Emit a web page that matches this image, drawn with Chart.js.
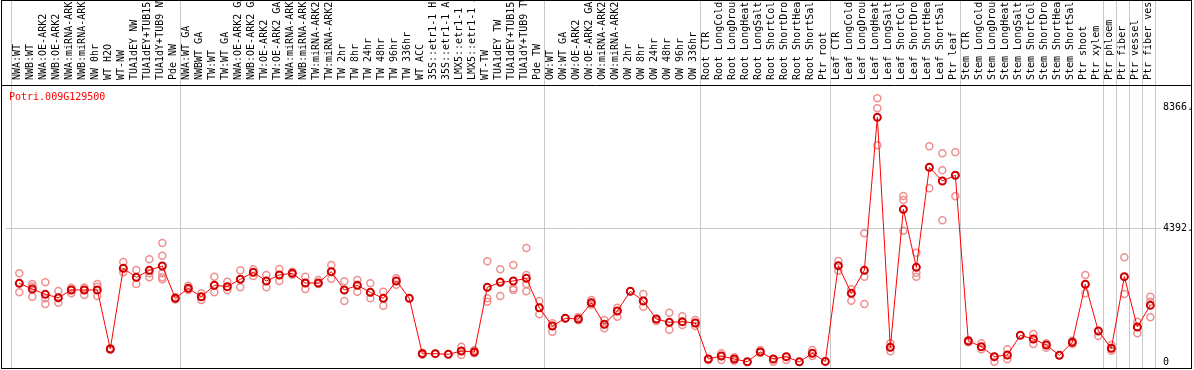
<!DOCTYPE html>
<html lang="en">
<head>
<meta charset="UTF-8">
<title>Potri.009G129500</title>
<script src="https://cdn.jsdelivr.net/npm/chart.js"></script>
<style>
  body { margin: 0; background: #ffffff; }
  .chart-box { width: 1194px; height: 370px; position: relative; }
</style>
</head>
<body>
<div class="chart-box"><canvas id="exprChart"></canvas></div>
<script>
const geneName = 'Potri.009G129500';

const samples = [
  'NWA:WT', 'NWB:WT', 'NWA:OE-ARK2', 'NWB:OE-ARK2', 'NWA:miRNA-ARK2', 'NWB:miRNA-ARK2',
  'NW 0hr', 'WT H2O', 'WT-NW', 'TUA1dEY NW', 'TUA1dEY+TUB15 NW', 'TUA1dY+TUB9 NW', 'Pde NW',
  'NWA:WT GA', 'NWBWT GA', 'TW:WT', 'TW:WT GA', 'NWA:OE-ARK2 GA', 'NWB:OE-ARK2 GA',
  'TW:OE-ARK2', 'TW:OE-ARK2 GA', 'NWA:miRNA-ARK2', 'NWB:miRNA-ARK2', 'TW:miRNA-ARK2', 'TW:miRNA-ARK2',
  'TW 2hr', 'TW 8hr', 'TW 24hr', 'TW 48hr', 'TW 96hr', 'TW 336hr', 'WT ACC',
  '35S::etr1-1 H2O', '35S::etr1-1 ACC', 'LMX5::etr1-1 H2O', 'LMX5::etr1-1 ACC',
  'WT-TW', 'TUA1dEY TW', 'TUA1dEY+TUB15 TW', 'TUA1dY+TUB9 TW', 'Pde TW',
  'OW:WT', 'OW:WT GA', 'OW:OE-ARK2', 'OW:OE-ARK2 GA', 'OW:miRNA-ARK2', 'OW:miRNA-ARK2',
  'OW 2hr', 'OW 8hr', 'OW 24hr', 'OW 48hr', 'OW 96hr', 'OW 336hr',
  'Root CTR', 'Root LongCold', 'Root LongDrought', 'Root LongHeat', 'Root LongSalt',
  'Root ShortCold', 'Root ShortDrought', 'Root ShortHeat', 'Root ShortSalt', 'Ptr root',
  'Leaf CTR', 'Leaf LongCold', 'Leaf LongDrought', 'Leaf LongHeat', 'Leaf LongSalt',
  'Leaf ShortCold', 'Leaf ShortDrought', 'Leaf ShortHeat', 'Leaf ShortSalt', 'Ptr leaf',
  'Stem CTR', 'Stem LongCold', 'Stem LongDrought', 'Stem LongHeat', 'Stem LongSalt',
  'Stem ShortCold', 'Stem ShortDrought', 'Stem ShortHeat', 'Stem ShortSalt', 'Ptr shoot',
  'Ptr xylem', 'Ptr phloem', 'Ptr fiber', 'Ptr vessel', 'Ptr fiber vessel'
];

const means = [
  2580, 2394, 2220, 2110, 2362, 2362, 2362, 426, 3072, 2777, 3007, 3149, 2089,
  2417, 2142, 2515, 2471, 2712, 2941, 2657, 2854, 2909, 2591, 2591, 2963,
  2362, 2515, 2286, 2089, 2657, 2089, 273, 273, 251, 361, 328,
  2449, 2613, 2657, 2745, 1781,
  1181, 1432, 1410, 1945, 1236, 1673, 2318, 2001, 1410, 1301, 1323, 1279,
  98, 197, 98, 10, 328, 98, 175, 5, 284, 20,
  3160, 2252, 3007, 8026, 481, 5008, 3105, 6385, 5937, 6124,
  689, 503, 175, 230, 875, 754, 558, 219, 645, 2548,
  1017, 448, 2799, 1148, 1859
];

const replicates = [
  [2909, 2580, 2286], [2558, 2480, 2142], [2614, 2089, 1902], [2329, 2089, 1945],
  [2438, 2362, 2252], [2440, 2362, 2198], [2558, 2470, 2165], [450, 426, 400],
  [3280, 3072, 2941], [3018, 2777, 2558], [3368, 2909, 2777], [3903, 3488, 2909, 2712, 2780],
  [2130, 2089, 2050],
  [2504, 2417, 2362], [2252, 2142, 2034], [2798, 2515, 2286], [2634, 2471, 2362],
  [3007, 2712, 2449], [3040, 2941, 2821], [2854, 2657, 2449], [3050, 2854, 2657],
  [2960, 2909, 2860], [2798, 2591, 2394], [2690, 2591, 2558], [3182, 2963, 2733],
  [2646, 2362, 2001], [2690, 2515, 2307], [2580, 2286, 2089], [2304, 2089, 1847],
  [2745, 2657, 2530], [2089], [300, 273, 240], [273], [251], [503, 361, 229], [394, 328, 284],
  [3302, 2089, 1979], [3040, 2634, 2165], [3182, 2417, 2362], [3739, 2854, 2558, 2318], [2001, 1781, 1563],
  [1268, 1181, 994], [1432], [1480, 1410, 1370], [2034, 1945, 1880], [1378, 1236, 1104],
  [1782, 1673, 1487], [2318], [2230, 2001, 1815], [1410, 1345], [1618, 1301, 1060],
  [1498, 1323, 1214], [1378, 1279, 1181],
  [98, 66], [284, 197, 65], [153, 98, 44], [10], [394, 328, 300], [98, 10], [175, 66], [5],
  [394, 284, 200], [20],
  [3313, 3160, 2996], [2383, 2252, 2012], [4221, 2798, 1902], [8649, 8321, 7108], [612, 481, 350],
  [5445, 5314, 4307], [3586, 2930, 2799], [7075, 6385, 5697], [6845, 6288, 4648], [6878, 6124, 5435],
  [720, 689, 650], [612, 503, 420], [175, 10], [416, 230, 87], [875], [918, 754, 590],
  [612, 558, 470], [219], [700, 645, 590], [2854, 2548, 2252],
  [1017, 853], [558, 448, 372], [3433, 2799, 2230], [1323, 1148, 940], [2142, 1979, 1465]
];

// first sample of each group, the last entry closes the final group
const groupStarts = [0, 13, 41, 53, 63, 73, 84, 85, 86, 87, 88];

const yTickValues = [0, 4392, 8366];
const yTickLabels = ['0', '4392.', '8366.'];

const monoFont = { family: 'DejaVu Sans Mono', size: 10 };

const meanPoints = means.map((v, i) => ({ x: i, y: v }));
const repPoints = [];
replicates.forEach((reps, i) => reps.forEach(v => repPoints.push({ x: i, y: v })));

// group separators, outer frame and gene name
const framePlugin = {
  id: 'framePlugin',
  beforeDatasetsDraw(chart) {
    const { ctx, scales } = chart;
    ctx.save();
    ctx.strokeStyle = '#c8c8c8';
    ctx.lineWidth = 1;
    groupStarts.forEach(s => {
      const x = Math.round(scales.x.getPixelForValue(s - 0.62)) + 0.5;
      ctx.beginPath();
      ctx.moveTo(x, 0);
      ctx.lineTo(x, 368);
      ctx.stroke();
    });
    ctx.restore();
  },
  afterDraw(chart) {
    const { ctx, chartArea } = chart;
    ctx.save();
    ctx.strokeStyle = '#000000';
    ctx.lineWidth = 1;
    ctx.strokeRect(1.5, 0.5, 1190, 368);
    const ySep = Math.floor(chartArea.top) + 0.5;
    ctx.beginPath();
    ctx.moveTo(1, ySep);
    ctx.lineTo(1192, ySep);
    ctx.stroke();
    ctx.fillStyle = '#ff0000';
    ctx.font = '10px "DejaVu Sans Mono"';
    ctx.textBaseline = 'middle';
    ctx.fillText(geneName, 9, chartArea.top + 12);
    ctx.restore();
  }
};

const ctx = document.getElementById('exprChart').getContext('2d');
new Chart(ctx, {
  type: 'line',
  data: {
    datasets: [
      {
        label: 'mean',
        data: meanPoints,
        borderColor: '#ff0000',
        borderWidth: 1,
        pointRadius: 3.5,
        pointBorderWidth: 2,
        pointBorderColor: '#d00000',
        pointBackgroundColor: 'rgba(0,0,0,0)',
        tension: 0,
        clip: false,
        order: 0
      },
      {
        label: 'replicates',
        data: repPoints,
        showLine: false,
        pointRadius: 3.5,
        pointBorderWidth: 1.5,
        pointBorderColor: '#ee9090',
        pointBackgroundColor: 'rgba(0,0,0,0)',
        clip: false,
        order: 1
      }
    ]
  },
  options: {
    responsive: true,
    maintainAspectRatio: false,
    animation: false,
    devicePixelRatio: 1,
    layout: { padding: { left: 2, right: 2, top: 0, bottom: 1 } },
    plugins: {
      legend: { display: false },
      tooltip: { enabled: false }
    },
    scales: {
      x: {
        type: 'linear',
        display: false,
        min: -1.023,
        max: 87.82
      },
      xTop: {
        type: 'linear',
        position: 'top',
        min: -1.023,
        max: 87.82,
        grid: { display: false },
        border: { display: false },
        afterBuildTicks: scale => {
          scale.ticks = samples.map((s, i) => ({ value: i }));
        },
        afterFit: scale => {
          scale.height = 85;
        },
        ticks: {
          autoSkip: false,
          minRotation: 90,
          maxRotation: 90,
          padding: -3,
          labelOffset: 10,
          color: '#000000',
          font: monoFont,
          callback: value => samples[value]
        }
      },
      y: {
        type: 'linear',
        position: 'right',
        min: 0,
        max: 9086,
        afterBuildTicks: scale => {
          scale.ticks = yTickValues.map(v => ({ value: v }));
        },
        afterFit: scale => {
          scale.width = 31;
        },
        grid: {
          drawTicks: false,
          color: c => (c.tick && c.tick.value === 4392 ? '#c8c8c8' : 'rgba(0,0,0,0)')
        },
        border: { display: false },
        ticks: {
          padding: 2,
          color: '#000000',
          font: monoFont,
          callback: value => yTickLabels[yTickValues.indexOf(value)]
        }
      }
    }
  },
  plugins: [framePlugin]
});
</script>
</body>
</html>
